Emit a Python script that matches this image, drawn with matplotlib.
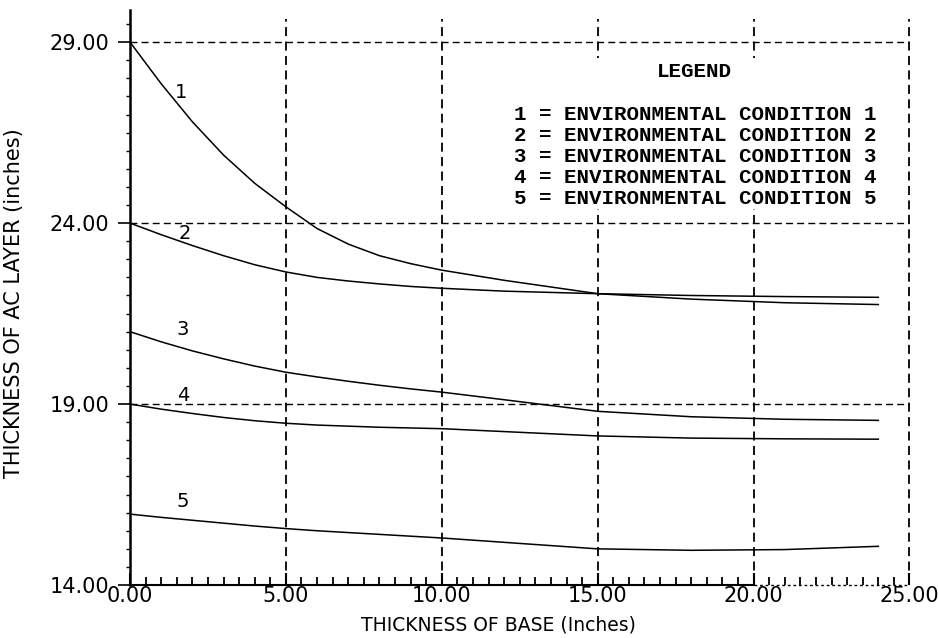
import matplotlib.pyplot as plt
from matplotlib.patches import Rectangle
from matplotlib.ticker import MultipleLocator, FormatStrFormatter


# thickness of base (inches)
BASE = [0, 1, 2, 3, 4, 5, 6, 7, 8, 9, 10, 12, 15, 18, 21, 24]

# thickness of AC layer (inches), one list per environmental condition
AC_1 = [29.0, 27.85, 26.8, 25.88, 25.1, 24.45, 23.85, 23.42, 23.1, 22.88, 22.7, 22.42, 22.05, 21.9, 21.8, 21.75]
AC_2 = [24.0, 23.68, 23.38, 23.1, 22.85, 22.65, 22.5, 22.4, 22.32, 22.25, 22.2, 22.12, 22.05, 22.0, 21.97, 21.95]
AC_3 = [21.0, 20.72, 20.47, 20.25, 20.05, 19.88, 19.75, 19.63, 19.52, 19.42, 19.33, 19.12, 18.8, 18.65, 18.58, 18.55]
AC_4 = [19.0, 18.86, 18.74, 18.63, 18.54, 18.47, 18.42, 18.39, 18.36, 18.34, 18.32, 18.24, 18.12, 18.06, 18.04, 18.03]
AC_5 = [15.96, 15.87, 15.79, 15.71, 15.63, 15.56, 15.5, 15.45, 15.4, 15.35, 15.3, 15.18, 15.0, 14.96, 14.98, 15.07]

CURVES = [AC_1, AC_2, AC_3, AC_4, AC_5]
CURVE_IDS = ["1", "2", "3", "4", "5"]
LEGEND_ROWS = [f"{c} = ENVIRONMENTAL CONDITION {c}" for c in CURVE_IDS]

X_GRID = [5, 10, 15, 20, 25]
Y_GRID = [19, 24, 29]

# where the curve numbers sit
LABEL_POS = [(1.65, 27.6), (1.75, 23.7), (1.7, 21.05), (1.7, 19.25), (1.7, 16.3)]


def main():
    fig = plt.figure(figsize=(9.38, 6.38), dpi=100)
    ax = fig.add_axes([0.1386, 0.083, 0.836, 0.902])
    ax.set_xlim(0, 25.15)
    ax.set_ylim(14, 29.9)

    dash = (0, (5, 3))
    for xv in X_GRID:
        ax.plot([xv, xv], [14, 29.65], color="black", lw=1.3, ls=dash, zorder=1)
    for yv in Y_GRID:
        ax.plot([0, 25], [yv, yv], color="black", lw=1.0, ls=dash, zorder=1)

    # legend box hides the grid behind it
    ax.add_patch(Rectangle((11.8, 24.4), 12.8, 4.15, facecolor="white",
                           edgecolor="none", zorder=2))

    for ys in CURVES:
        ax.plot(BASE, ys, color="black", lw=1.1, zorder=3)

    for cid, (lx, ly) in zip(CURVE_IDS, LABEL_POS):
        ax.text(lx, ly, cid, fontsize=14, ha="center", va="center", zorder=4)

    mono = dict(family="Liberation Mono", fontweight="bold", fontsize=15, zorder=4)
    ax.text(18.1, 28.2, "LEGEND", ha="center", va="center", **mono)
    for i, row in enumerate(LEGEND_ROWS):
        ax.text(12.3, 27.0 - i * 0.58, row, ha="left", va="center", **mono)

    for side in ["top", "right"]:
        ax.spines[side].set_visible(False)
    ax.spines["left"].set_linewidth(1.8)
    ax.spines["left"].set_bounds(14, 29.9)
    ax.spines["bottom"].set_linewidth(1.5)
    ax.spines["bottom"].set_bounds(0, 20)
    ax.plot([20, 25], [14, 14], color="black", lw=1.0, ls=(0, (2, 2)),
            clip_on=False, zorder=3)

    ax.xaxis.set_minor_locator(MultipleLocator(0.5))
    ax.yaxis.set_minor_locator(MultipleLocator(0.5))
    ax.yaxis.set_major_formatter(FormatStrFormatter("%.2f"))
    ax.xaxis.set_major_formatter(FormatStrFormatter("%.2f"))
    ax.set_yticks([14, 19, 24, 29])
    ax.set_xticks([0, 5, 10, 15, 20, 25])

    ax.tick_params(axis="x", which="major", direction="in", length=9, width=1.5,
                   labelsize=15, pad=1)
    ax.tick_params(axis="x", which="minor", direction="in", length=6, width=1.3)
    ax.tick_params(axis="y", which="major", direction="out", length=9, width=1.2,
                   labelsize=15, pad=6)
    ax.tick_params(axis="y", which="minor", direction="out", length=3, width=1.0)

    ax.set_xlabel("THICKNESS OF BASE (Inches)", fontsize=13.5)
    ax.xaxis.set_label_coords(0.47, -0.053)
    ax.set_ylabel("THICKNESS OF AC LAYER (inches)", fontsize=15)
    ax.yaxis.set_label_coords(-0.135, 0.49)

    fig.savefig("out.png", dpi=100)


if __name__ == "__main__":
    main()
